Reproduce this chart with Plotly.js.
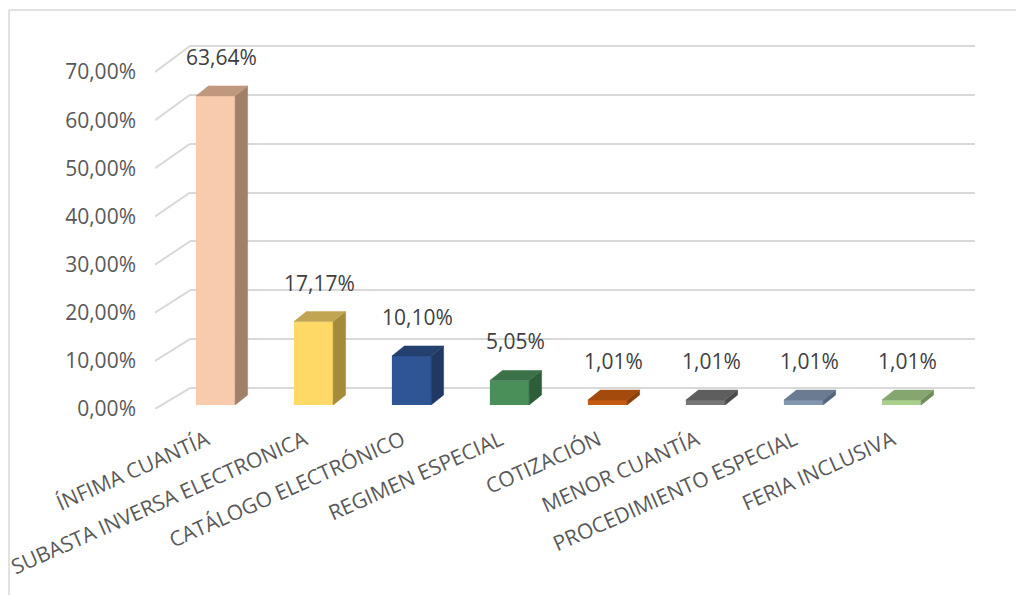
<!DOCTYPE html>
<html>
<head>
<meta charset="utf-8">
<script src="https://cdn.plot.ly/plotly-3.0.1.min.js"></script>
<style>html,body{margin:0;padding:0;background:#fff;}#chart{width:1016px;height:595px;}</style>
</head>
<body>
<div id="chart"></div>
<script>
// ---- data ----
const categories = ["ÍNFIMA CUANTÍA","SUBASTA INVERSA ELECTRONICA","CATÁLOGO ELECTRÓNICO","REGIMEN ESPECIAL","COTIZACIÓN","MENOR CUANTÍA","PROCEDIMIENTO ESPECIAL","FERIA INCLUSIVA"];
const values = [63.64, 17.17, 10.10, 5.05, 1.01, 1.01, 1.01, 1.01];
const tickValues = [0, 10, 20, 30, 40, 50, 60, 70];
const tickLabels = ["0,00%","10,00%","20,00%","30,00%","40,00%","50,00%","60,00%","70,00%"];

// ---- styles ----
const frontColors = ["#F8CBAD","#FFD966","#2F5597","#4A8E5A","#C55A11","#767676","#8497B0","#A9D18E"];
const sideColors  = ["#A08068","#A48B3C","#1F3864","#2E5D3A","#8A3E0B","#4A4A4A","#56657A","#6E8C5B"];
const topColors   = ["#C0987E","#C1A552","#24406F","#3B7248","#A34A0D","#5E5E5E","#6A7B92","#86A670"];

const W = 1016, H = 595;
const barHalf = 0.2;               // half bar width (category units)
const catPx = 98;                  // px per category
const yPx = 4.857;                 // px per % on bar plane
const depthX = 12.5 / catPx;       // bar depth, x units
const depthY = 10 / yPx;           // bar depth, y units
// wall geometry
const front0 = 409, frontScale = 4.814, back0 = 388, backScale = 4.886;

const idx = categories.map((_, i) => i);
const traces = [];

// back-wall grid subplot (xy) - just a holder
traces.push({type:'scatter', x:[0], y:[0], mode:'markers', marker:{opacity:0}, hoverinfo:'skip', xaxis:'x', yaxis:'y', showlegend:false});

// left wall diagonals (x2y2)
tickValues.forEach(v => {
  const backVal = (front0 - (back0 - backScale * v)) / frontScale;
  traces.push({type:'scatter', mode:'lines', x:[0,1], y:[v, backVal], line:{color:'#D9D9D9', width:2},
    hoverinfo:'skip', xaxis:'x2', yaxis:'y2', showlegend:false});
});

// bar side and top faces (x3y3)
values.forEach((v, i) => {
  const r = i + barHalf, l = i - barHalf;
  traces.push({type:'scatter', mode:'lines', fill:'toself', fillcolor:sideColors[i],
    x:[r, r+depthX, r+depthX, r, r], y:[0, depthY, v+depthY, v, 0],
    line:{color:sideColors[i], width:0.5}, hoverinfo:'skip', xaxis:'x3', yaxis:'y3', showlegend:false});
  traces.push({type:'scatter', mode:'lines', fill:'toself', fillcolor:topColors[i],
    x:[l, r, r+depthX, l+depthX, l], y:[v, v, v+depthY, v+depthY, v],
    line:{color:topColors[i], width:0.5}, hoverinfo:'skip', xaxis:'x3', yaxis:'y3', showlegend:false});
});

// front faces
traces.push({type:'bar', x:idx, y:values, width:barHalf*2, marker:{color:frontColors, line:{width:0}},
  xaxis:'x3', yaxis:'y3', showlegend:false, hoverinfo:'x+y'});

const annotations = values.map((v, i) => ({
  x: i + depthX/2, y: v, xref:'x3', yref:'y3', yshift: 39, showarrow:false,
  text: v.toFixed(2).replace('.', ',') + '%',
  font:{family:'Open Sans, sans-serif', size:21, color:'#404040'}
}));

const px = p => p / W;
const py = p => (H - p) / H;

const layout = {
  width: W, height: H,
  margin:{l:0, r:0, t:0, b:0},
  paper_bgcolor:'#ffffff', plot_bgcolor:'rgba(0,0,0,0)',
  showlegend:false,
  font:{family:'Open Sans, sans-serif', color:'#595959'},
  xaxis:{domain:[px(190), px(975)], range:[0,1], visible:false, anchor:'y', fixedrange:true},
  yaxis:{domain:[py(back0 + backScale*1), py(back0 - backScale*71)], range:[-1,71], anchor:'x',
    tick0:0, dtick:10, showgrid:true, gridcolor:'#D9D9D9', gridwidth:2, zeroline:false,
    showticklabels:false, ticks:'', showline:false, fixedrange:true},
  xaxis2:{domain:[px(155), px(190)], range:[0,1], visible:false, anchor:'y2', fixedrange:true},
  yaxis2:{domain:[py(front0), py(front0 - frontScale*80)], range:[0,80], anchor:'x2',
    tickvals:tickValues, ticktext:tickLabels, showgrid:false, zeroline:false, showline:false, ticks:'',
    ticklabelstandoff:18, tickfont:{family:'Open Sans, sans-serif', size:21, color:'#595959'}, fixedrange:true},
  xaxis3:{domain:[px(215.5 - catPx/2), px(215.5 + catPx*7.5)], range:[-0.5,7.5], anchor:'y3',
    tickvals:idx, ticktext:categories, tickangle:-24, showgrid:false, zeroline:false, showline:false, ticks:'',
    ticklabelstandoff:18, ticklabelshift:-9,
    tickfont:{family:'Open Sans, sans-serif', size:21, color:'#595959'}, fixedrange:true},
  yaxis3:{domain:[py(405), py(405 - yPx*70)], range:[0,70], anchor:'x3', visible:false, fixedrange:true},
  annotations: annotations,
  shapes:[
    {type:'line', xref:'paper', yref:'paper', x0:px(9), x1:1, y0:py(10), y1:py(10), line:{color:'#D9D9D9', width:1.5}},
    {type:'line', xref:'paper', yref:'paper', x0:px(9), x1:px(9), y0:0, y1:py(10), line:{color:'#D9D9D9', width:1.5}}
  ]
};

Plotly.newPlot('chart', traces, layout, {displayModeBar:false, staticPlot:true});
</script>
</body>
</html>
